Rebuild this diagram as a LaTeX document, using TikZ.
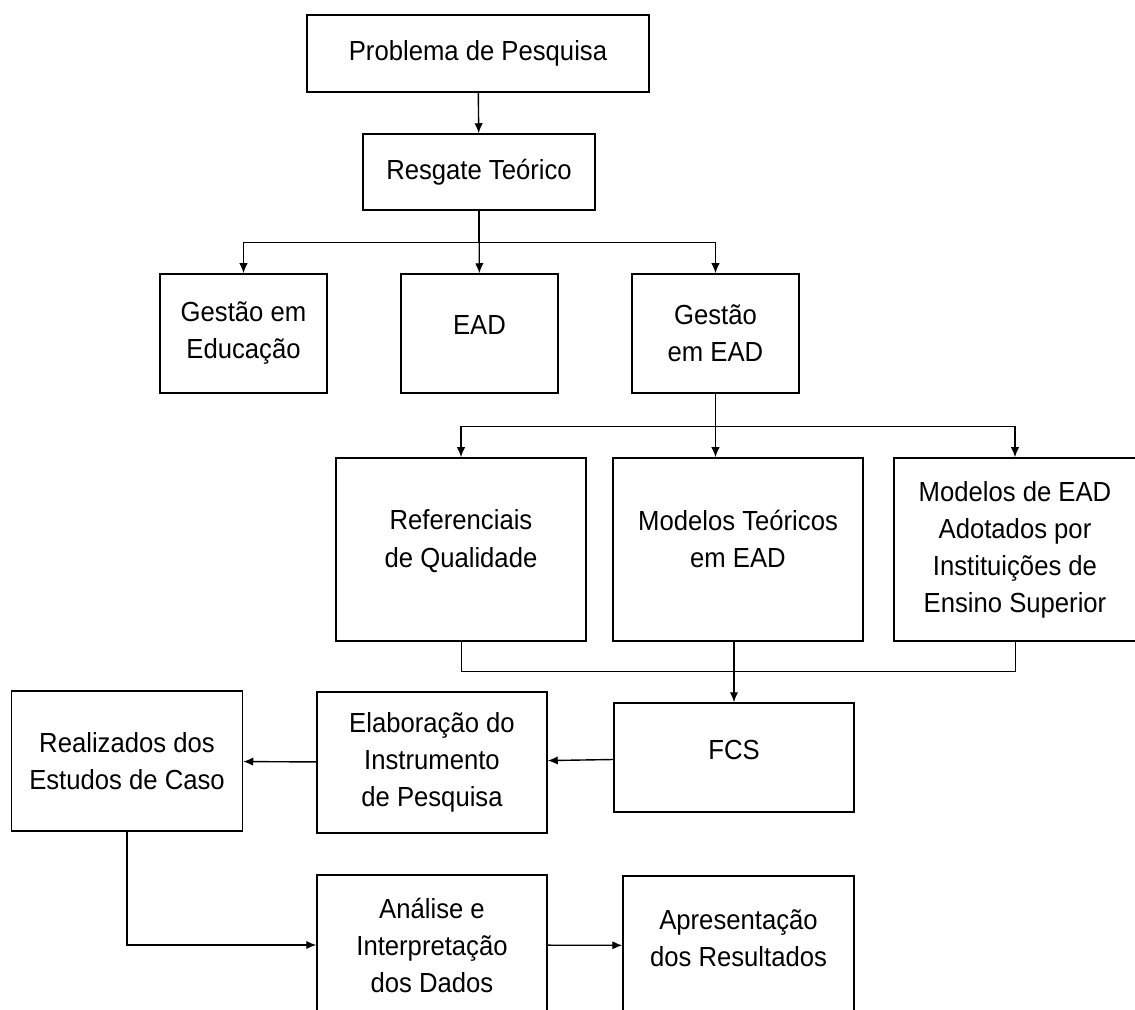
\documentclass[tikz,border=0pt]{standalone}
\usepackage{fontspec}
\setmainfont{Liberation Sans}[FakeStretch=0.93]
\usetikzlibrary{arrows.meta}

\tikzset{
  box/.style={draw, line width=0.75pt, align=center, inner sep=0pt,
    font=\fontsize{13.8}{18.5}\selectfont},
  link/.style={line width=0.7pt, -{Latex[length=5pt,width=4.2pt]}},
}

\begin{document}
\begin{tikzpicture}[x=0.5pt,y=-0.5pt]
      \useasboundingbox (0,0) rectangle (1135,1010);
      \clip (0,0) rectangle (1135,1010);

      \node[box, minimum width=171pt, minimum height=38.5pt] (prob) at (478,53.5) {Problema de Pesquisa};
      \node[box, minimum width=116pt, minimum height=38pt] (resg) at (479,172) {Resgate Teórico};

      \node[box, minimum width=83.5pt, minimum height=59.5pt] (ge) at (243.5,333.5) {Gestão em\\ Educação};
      \node[box, minimum width=78.5pt, minimum height=59.5pt] (ead) at (479.5,333.5) {EAD\\[-10.5pt]};
      \node[box, minimum width=83.5pt, minimum height=59.5pt] (gea) at (715.5,333.5) {Gestão\\em EAD};

      \node[box, minimum width=125pt, minimum height=91.5pt] (ref) at (461,549.5) {Referenciais\\de Qualidade\\[-7.5pt]};
      \node[box, minimum width=125pt, minimum height=91.5pt] (mt) at (738,549.5) {Modelos Teóricos\\em EAD\\[-7.5pt]};
      \node[box, minimum width=121pt, minimum height=91.5pt] (mea) at (1015,549.5) {Modelos de EAD\\Adotados por\\Instituições de\\Ensino Superior};

      \node[box, minimum width=120pt, minimum height=54.5pt] (fcs) at (734,757.5) {FCS\\[-11pt]};
      \node[box, minimum width=115pt, minimum height=70.5pt] (elab) at (432,762.5) {Elaboração do\\Instrumento\\de Pesquisa};
      \node[box, minimum width=115.5pt, minimum height=70pt] (real) at (127,761) {Realizados dos\\Estudos de Caso};

      \node[box, minimum width=115pt, minimum height=70pt] (ana) at (432,945) {Análise e\\Interpretação\\dos Dados};
      \node[box, minimum width=115.5pt, minimum height=69.5pt] (apr) at (738.5,945.5) {Apresentação\\dos Resultados\\[-11pt]};

      \draw[link] (prob) -- (resg);
      \draw[link] (resg) -- (ead);
      \draw[link] (resg.south) -- ++(0,32) -| (ge.north);
      \draw[link] (resg.south) -- ++(0,32) -| (gea.north);

      \draw[link] (gea.south) -- (gea.south |- mt.north);
      \draw[link] (gea.south) -- ++(0,33) -| (ref.north);
      \draw[link] (gea.south) -- ++(0,33) -| (mea.north);

      \draw (ref.south) -- ++(0,30) -| (mea.south);
      \draw[link] (fcs.north |- mt.south) -- (fcs.north);

      \draw[link] (fcs) -- (elab);
      \draw[link] (elab) -- (real);
      \draw[link] (real.south) |- (ana.west);
      \draw[link] (ana) -- (apr);
\end{tikzpicture}
\end{document}
